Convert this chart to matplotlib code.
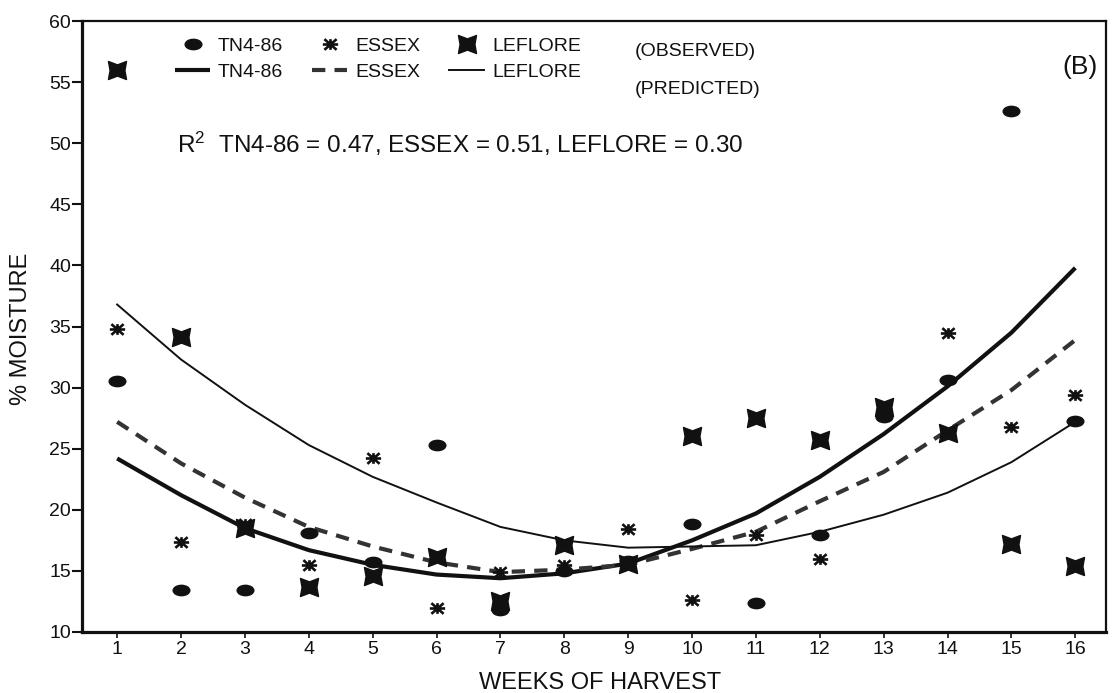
import matplotlib
matplotlib.use("Agg")
import matplotlib.pyplot as plt
from matplotlib.path import Path
import matplotlib.font_manager as fm
import numpy as np

# ---------------- data ----------------
weeks = [1, 2, 3, 4, 5, 6, 7, 8, 9, 10, 11, 12, 13, 14, 15, 16]
tn_obs = [30.5, 13.4, 13.4, 18.1, 15.7, 25.3, 11.8, 15.0, 15.8, 18.8, 12.4, 17.9, 27.6, 30.6, 52.6, 27.3]
essex_obs = [34.8, 17.4, 18.8, 15.5, 24.2, 12.0, 14.9, 15.5, 18.4, 12.6, 17.9, 16.0, 28.0, 34.5, 26.8, 29.4]
leflore_obs = [56.0, 34.1, 18.5, 13.7, 14.6, 16.1, 12.5, 17.1, 15.6, 26.0, 27.5, 25.7, 28.4, 26.3, 17.2, 15.4]

tn_pred = [24.2, 21.2, 18.5, 16.7, 15.5, 14.7, 14.4, 14.8, 15.6, 17.5, 19.7, 22.7, 26.2, 30.1, 34.5, 39.8]
essex_pred = [27.2, 23.8, 21.0, 18.6, 17.0, 15.7, 14.9, 15.1, 15.5, 16.8, 18.2, 20.7, 23.1, 26.5, 29.8, 33.9]
leflore_pred = [36.8, 32.3, 28.6, 25.3, 22.7, 20.6, 18.6, 17.5, 16.9, 17.0, 17.1, 18.2, 19.6, 21.4, 23.9, 27.2]

series_names = ["TN4-86", "ESSEX", "LEFLORE"]
y_ticks = [10, 15, 20, 25, 30, 35, 40, 45, 50, 55, 60]
r2_text = "R$^{2}$  TN4-86 = 0.47, ESSEX = 0.51, LEFLORE = 0.30"

# ---------------- fonts ----------------
avail = {f.name for f in fm.fontManager.ttflist}
fam = "Liberation Sans" if "Liberation Sans" in avail else "DejaVu Sans"
plt.rcParams["font.family"] = [fam, "DejaVu Sans"]
plt.rcParams["mathtext.fontset"] = "custom"
plt.rcParams["mathtext.rm"] = fam
plt.rcParams["mathtext.default"] = "regular"

# ---------------- markers ----------------
circ = Path.unit_circle()
ellipse_marker = Path(circ.vertices * np.array([1.0, 0.62]), circ.codes)

ast_verts = [(-1, 0), (1, 0), (-0.8, -0.7), (0.8, 0.7), (-0.8, 0.7), (0.8, -0.7), (0, -0.7), (0, 0.7)]
ast_codes = [Path.MOVETO, Path.LINETO] * 4
asterisk_marker = Path(ast_verts, ast_codes)

bow_verts = [(-1, 1), (0, 0.62), (1, 1), (0.82, 0), (1, -1), (0, -0.62), (-1, -1), (-0.82, 0), (-1, 1)]
bow_codes = [Path.MOVETO] + [Path.LINETO] * 7 + [Path.CLOSEPOLY]
bowtie_marker = Path(bow_verts, bow_codes)

# ---------------- figure ----------------
W, H = 1119, 693
fig = plt.figure(figsize=(W / 100, H / 100), dpi=100)
L, R, T, B = 82, 1106, 21, 632
ax = fig.add_axes([L / W, (H - B) / H, (R - L) / W, (B - T) / H])

ink = "#111111"

l_tn, = ax.plot(weeks, tn_pred, color=ink, lw=3.0, solid_capstyle="butt", zorder=2)
l_es, = ax.plot(weeks, essex_pred, color="#333333", lw=3.0, dashes=(3.2, 2.2), zorder=2)
l_le, = ax.plot(weeks, leflore_pred, color=ink, lw=1.4, zorder=2)

m_tn, = ax.plot(weeks, tn_obs, ls="none", marker=ellipse_marker, ms=12, color=ink, zorder=3)
m_es, = ax.plot(weeks, essex_obs, ls="none", marker=asterisk_marker, ms=11, mew=1.9,
                mec=ink, mfc="none", zorder=3)
m_le, = ax.plot(weeks, leflore_obs, ls="none", marker=bowtie_marker, ms=13, color=ink, zorder=3)

ax.set_xlim(0.45, 16.48)
ax.set_ylim(10, 60)
ax.set_xticks(weeks)
ax.set_yticks(y_ticks)
ax.tick_params(axis="y", direction="out", length=7, width=1.5, pad=1, labelsize=14, colors=ink)
ax.tick_params(axis="x", direction="out", length=4.5, width=1.2, pad=2, labelsize=14, colors=ink)

for side in ["left", "bottom"]:
    ax.spines[side].set_linewidth(2.3)
for side in ["top", "right"]:
    ax.spines[side].set_linewidth(1.6)
for s in ax.spines.values():
    s.set_color(ink)

ax.set_xlabel("WEEKS OF HARVEST", fontsize=17, color=ink)
ax.xaxis.set_label_coords(0.506, -0.066)
ax.set_ylabel("% MOISTURE", fontsize=17, color=ink)
ax.yaxis.set_label_coords(-0.049, 0.496)

# legend: row 1 observed markers, row 2 predicted lines
handles = [m_tn, l_tn, m_es, l_es, m_le, l_le]
labels = [series_names[0], series_names[0], series_names[1], series_names[1],
          series_names[2], series_names[2]]
leg = ax.legend(handles, labels, ncol=3, frameon=False, loc="upper left",
                bbox_to_anchor=((175 - L) / (R - L), (B - 37) / (B - T)),
                borderaxespad=0, borderpad=0, numpoints=1, handlelength=1.8,
                handletextpad=0.4, columnspacing=1.5, labelspacing=0.45,
                fontsize=14)
for t in leg.get_texts():
    t.set_color(ink)

ax.text((635 - L) / (R - L), (B - 52) / (B - T), "(OBSERVED)", transform=ax.transAxes,
        fontsize=14, ha="left", va="center", color=ink)
ax.text((635 - L) / (R - L), (B - 90) / (B - T), "(PREDICTED)", transform=ax.transAxes,
        fontsize=14, ha="left", va="center", color=ink)
ax.text((1098 - L) / (R - L), (B - 67) / (B - T), "(B)", transform=ax.transAxes,
        fontsize=19, ha="right", va="center", color=ink)
ax.text((177 - L) / (R - L), (B - 153) / (B - T), r2_text, transform=ax.transAxes,
        fontsize=17.5, ha="left", va="baseline", color=ink)

fig.savefig("out.png", dpi=100, facecolor="white")
